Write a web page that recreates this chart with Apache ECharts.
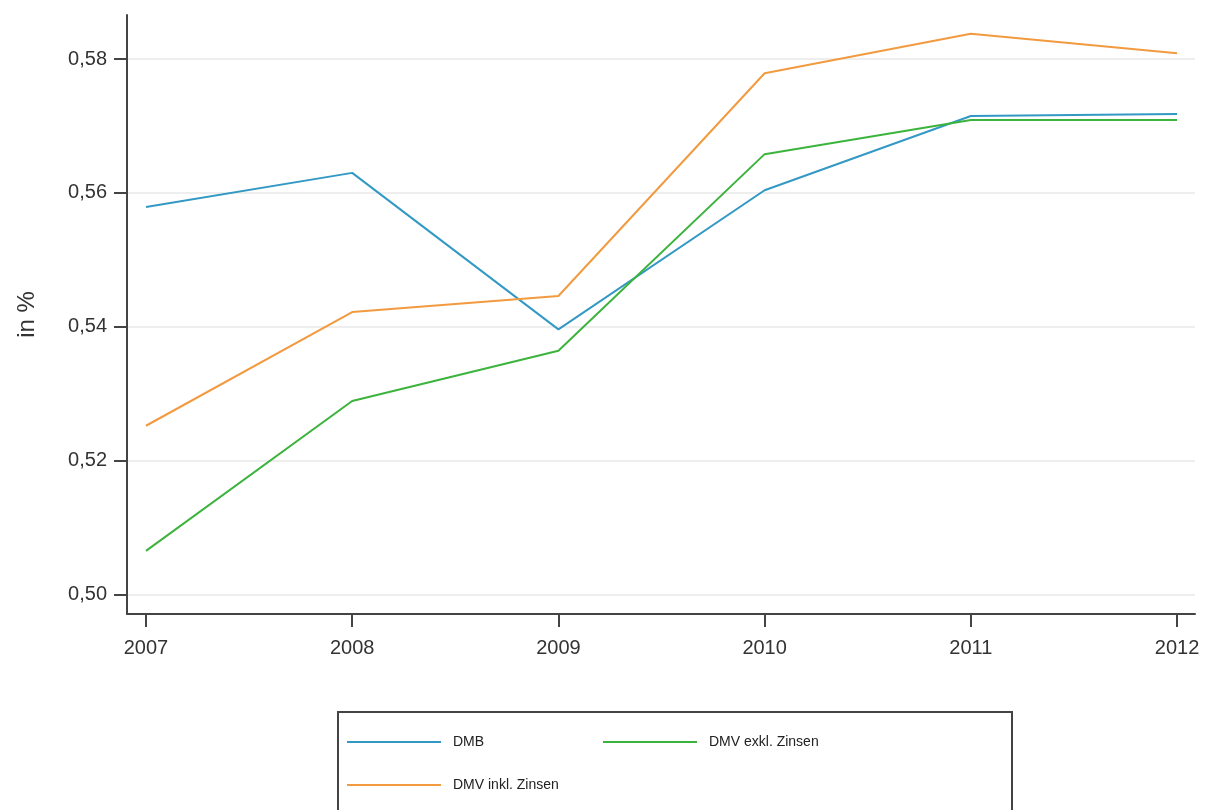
<!DOCTYPE html>
<html><head><meta charset="utf-8">
<script src="https://cdn.jsdelivr.net/npm/echarts@6/dist/echarts.min.js"></script>
<style>html,body{margin:0;padding:0;background:#fff}#c{width:1214px;height:810px}</style>
</head><body><div id="c"></div>
<script>
const years = [2007, 2008, 2009, 2010, 2011, 2012];
const dmb = [0.5579, 0.5630, 0.5396, 0.5604, 0.5715, 0.5718];
const dmvInkl = [0.5252, 0.5422, 0.5446, 0.5779, 0.5838, 0.5809];
const dmvExkl = [0.5065, 0.5289, 0.5364, 0.5658, 0.5709, 0.5709];
const yTicks = [0.50, 0.52, 0.54, 0.56, 0.58];
const names = ['DMB', 'DMV exkl. Zinsen', 'DMV inkl. Zinsen'];

const pair = arr => years.map((y, i) => [y, arr[i]]);
const chart = echarts.init(document.getElementById('c'));
const font = 'Liberation Sans, Arial, sans-serif';
const legendCommon = {
  icon: 'rect', itemWidth: 94, itemHeight: 2, itemGap: 0, padding: 0,
  textStyle: {fontFamily: font, fontSize: 14, color: '#222', padding: [0, 0, 0, 7]},
  selectedMode: false
};
chart.setOption({
  animation: false,
  backgroundColor: '#fff',
  grid: {left: 127, right: 19, top: 15, bottom: 196, containLabel: false},
  xAxis: {
    type: 'value', min: 2006.908, max: 2012.087,
    axisLine: {show: true, lineStyle: {color: '#444', width: 2}},
    axisTick: {show: true, customValues: years, length: 13, inside: false, lineStyle: {color: '#444', width: 2}},
    axisLabel: {customValues: years, fontFamily: font, fontSize: 20, color: '#333', margin: 24, formatter: v => String(v)},
    splitLine: {show: false}
  },
  yAxis: {
    type: 'value', min: 0.49706, max: 0.5866,
    name: 'in %', nameLocation: 'middle', nameGap: 88, nameRotate: 90,
    nameTextStyle: {fontFamily: font, fontSize: 24, color: '#333'},
    axisLine: {show: true, lineStyle: {color: '#444', width: 2}},
    axisTick: {show: true, customValues: yTicks, length: 13, lineStyle: {color: '#444', width: 2}},
    axisLabel: {customValues: yTicks, fontFamily: font, fontSize: 20, color: '#333', margin: 20,
      formatter: v => v.toFixed(2).replace('.', ',')},
    splitLine: {show: true, customValues: yTicks, lineStyle: {color: '#eeeeee', width: 2}}
  },
  legend: [
    Object.assign({left: 347, top: 735, data: [{name: names[0], itemStyle: {color: '#3399c4'}}]}, legendCommon),
    Object.assign({left: 603, top: 735, data: [{name: names[1], itemStyle: {color: '#3cb33c'}}]}, legendCommon),
    Object.assign({left: 347, top: 778, data: [{name: names[2], itemStyle: {color: '#f29a3f'}}]}, legendCommon)
  ],
  graphic: [{
    type: 'rect', shape: {x: 338, y: 712, width: 674, height: 110},
    style: {fill: 'none', stroke: '#444', lineWidth: 2}, silent: true
  }],
  series: [
    {name: names[0], type: 'line', data: pair(dmb), showSymbol: false, symbol: 'none',
      lineStyle: {color: '#3399c4', width: 2}, itemStyle: {color: '#3399c4'}},
    {name: names[1], type: 'line', data: pair(dmvExkl), showSymbol: false, symbol: 'none',
      lineStyle: {color: '#3cb33c', width: 2}, itemStyle: {color: '#3cb33c'}},
    {name: names[2], type: 'line', data: pair(dmvInkl), showSymbol: false, symbol: 'none',
      lineStyle: {color: '#f29a3f', width: 2}, itemStyle: {color: '#f29a3f'}}
  ]
});
</script></body></html>
